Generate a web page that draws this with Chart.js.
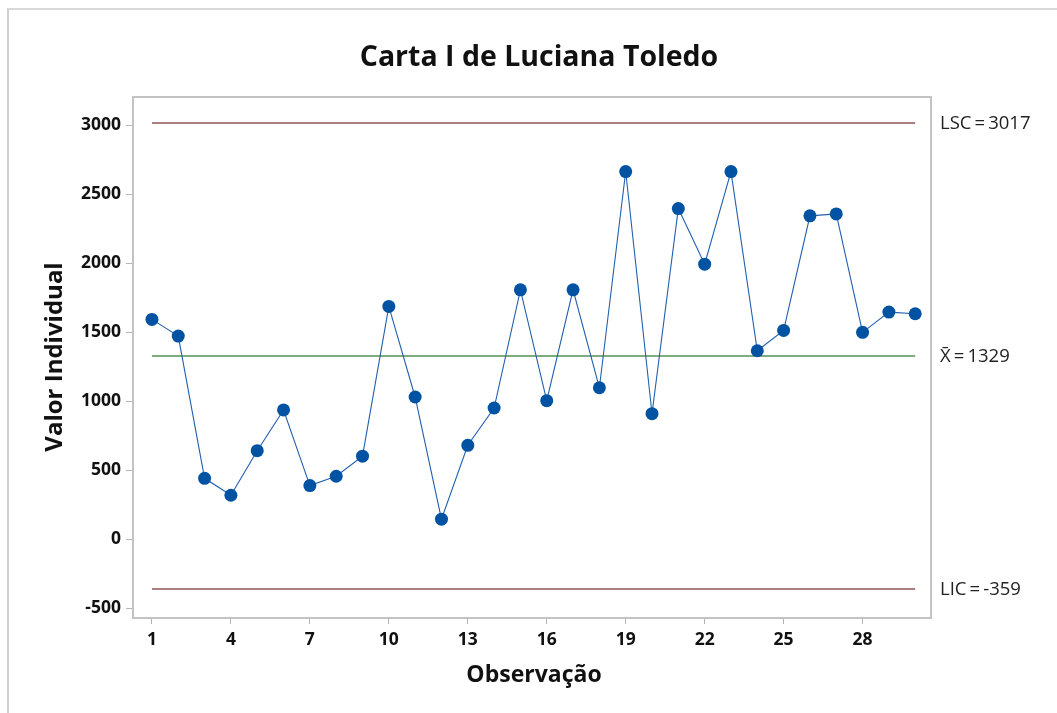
<!DOCTYPE html>
<html>
<head>
<meta charset="utf-8">
<script src="https://cdn.jsdelivr.net/npm/chart.js@4.4.1/dist/chart.umd.min.js"></script>
<style>
  html, body { margin: 0; padding: 0; background: #fff; }
  #wrap { position: relative; width: 1057px; height: 713px; overflow: hidden; }
  #frame { position: absolute; left: 7px; top: 8px; width: 1100px; height: 800px;
           border-top: 2px solid #d9d9d9; border-left: 2px solid #d0d0d0; box-sizing: border-box; }
  canvas { position: absolute; left: 0; top: 0; }
</style>
</head>
<body>
<div id="wrap">
  <div id="frame"></div>
  <canvas id="c" width="1057" height="713"></canvas>
</div>
<script>
// ---- data ----
const observations = [1,2,3,4,5,6,7,8,9,10,11,12,13,14,15,16,17,18,19,20,21,22,23,24,25,26,27,28,29,30];
const individualValues = [1594,1473,443,320,643,938,390,458,603,1688,1032,147,682,952,1808,1005,1808,1099,2665,911,2397,1994,2665,1367,1514,2344,2358,1500,1647,1635];
const xTickValues = [1,4,7,10,13,16,19,22,25,28];
const yTickValues = [-500,0,500,1000,1500,2000,2500,3000];
const upperLimit = 3017;
const centerLine = 1329;
const lowerLimit = -359;
const limitLabels = ['LSC\u2009=\u20093017', 'X\u0304\u2009=\u20091329', 'LIC\u2009=\u2009-359'];
const titleText = 'Carta I de Luciana Toledo';
const xTitle = 'Observação';
const yTitle = 'Valor Individual';

const FONT = "'Open Sans', 'Noto Sans', sans-serif";

const points = observations.map((o, i) => ({ x: o, y: individualValues[i] }));
const firstObs = observations[0], lastObs = observations[observations.length - 1];
const hline = v => [{ x: firstObs, y: v }, { x: lastObs, y: v }];

const decor = {
  id: 'decor',
  beforeDatasetsDraw(chart) {
    const { ctx, chartArea: a } = chart;
    ctx.save();
    ctx.strokeStyle = '#c3c3c3';
    ctx.lineWidth = 2;
    ctx.strokeRect(a.left, a.top, a.right - a.left, a.bottom - a.top);
    ctx.restore();
  },
  afterDraw(chart) {
    const { ctx, chartArea: a, scales } = chart;
    ctx.save();
    ctx.fillStyle = '#111';
    ctx.textAlign = 'center';
    ctx.textBaseline = 'middle';
    ctx.font = "bold 28.5px " + FONT;
    ctx.fillText(titleText, 539, 58);
    ctx.font = "bold 23px " + FONT;
    ctx.fillText(xTitle, 534, 675);
    ctx.save();
    ctx.translate(55, 357);
    ctx.rotate(-Math.PI / 2);
    ctx.font = "bold 24px " + FONT;
    ctx.fillText(yTitle, 0, 0);
    ctx.restore();
    ctx.font = "18.5px " + FONT;
    ctx.textAlign = 'left';
    ctx.fillStyle = '#222';
    const ys = [upperLimit, centerLine, lowerLimit];
    ys.forEach((v, i) => {
      ctx.fillText(limitLabels[i], a.right + 9, scales.y.getPixelForValue(v) + 1);
    });
    ctx.restore();
  }
};

new Chart(document.getElementById('c'), {
  type: 'line',
  data: {
    datasets: [
      { data: hline(upperLimit), borderColor: '#5a0000', borderWidth: 1.1, pointRadius: 0, order: 3 },
      { data: hline(centerLine), borderColor: '#005a00', borderWidth: 1.1, pointRadius: 0, order: 2 },
      { data: hline(lowerLimit), borderColor: '#5a0000', borderWidth: 1.1, pointRadius: 0, order: 3 },
      { data: points, borderColor: '#2260ae', borderWidth: 1.1, pointRadius: 6.5,
        pointBackgroundColor: '#0052a3', pointBorderColor: '#0052a3', pointBorderWidth: 0, order: 1 }
    ]
  },
  options: {
    responsive: false,
    animation: false,
    layout: { padding: { top: 97, right: 126, left: 0, bottom: 0 } },
    plugins: { legend: { display: false }, tooltip: { enabled: false }, title: { display: false } },
    scales: {
      x: {
        type: 'linear', min: 0.28, max: 30.6,
        afterBuildTicks: s => { s.ticks = xTickValues.map(v => ({ value: v })); },
        afterFit: s => { s.height = 95; },
        grid: { drawOnChartArea: false, drawTicks: true, tickLength: 6, color: '#b5b5b5', lineWidth: 1 },
        border: { display: false },
        ticks: { font: { family: FONT, size: 17.5, weight: 'bold' }, color: '#111', padding: 6, maxRotation: 0,
                 callback: v => String(v) }
      },
      y: {
        min: -569, max: 3205,
        afterBuildTicks: s => { s.ticks = yTickValues.map(v => ({ value: v })); },
        afterFit: s => { s.width = 133; },
        grid: { drawOnChartArea: false, drawTicks: true, tickLength: 7, color: '#b5b5b5', lineWidth: 1 },
        border: { display: false },
        ticks: { font: { family: FONT, size: 17.5, weight: 'bold' }, color: '#111', padding: 5,
                 callback: v => String(v) }
      }
    }
  },
  plugins: [decor]
});
</script>
</body>
</html>
